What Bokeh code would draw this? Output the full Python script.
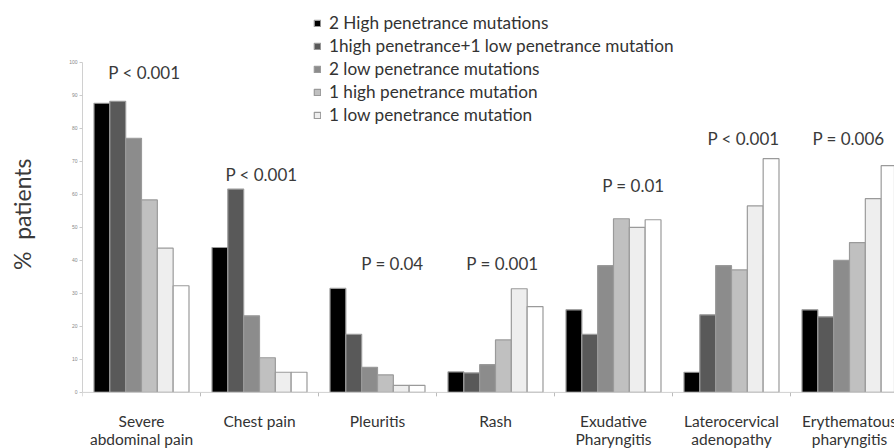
import math
from bokeh.plotting import figure
from bokeh.models import Range1d, FixedTicker, Legend, LegendItem, Span
from bokeh.core.properties import value
from bokeh.embed import file_html
from bokeh.resources import INLINE

# ---- data ----
categories = ["Severe\nabdominal pain", "Chest pain", "Pleuritis", "Rash",
              "Exudative\nPharyngitis", "Laterocervical\nadenopathy", "Erythematous\npharyngitis"]
series_names = ["2 High penetrance mutations",
                "1high penetrance+1 low penetrance mutation",
                "2 low penetrance mutations",
                "1 high penetrance mutation",
                "1 low penetrance mutation",
                None]
two_high = [87.6, 43.9, 31.5, 6.2, 25.0, 6.1, 25.0]
one_high_one_low = [88.2, 61.6, 17.6, 5.9, 17.6, 23.5, 22.9]
two_low = [77.0, 23.2, 7.6, 8.4, 38.4, 38.4, 40.0]
one_high = [58.3, 10.5, 5.3, 15.9, 52.6, 37.1, 45.4]
one_low = [43.7, 6.1, 2.1, 31.4, 50.0, 56.5, 58.7]
sixth = [32.3, 6.1, 2.1, 26.0, 52.3, 70.8, 68.7]
p_values = ["P < 0.001", "P < 0.001", "P = 0.04", "P = 0.001", "P = 0.01", "P < 0.001", "P = 0.006"]
y_ticks = list(range(0, 101, 10))
y_label = "% patients"

# ---- layout / style ----
colors = ["#000000", "#595959", "#8c8c8c", "#c0c0c0", "#eeeeee", "#ffffff"]
p_label_x = [0.525, 1.517, 2.627, 3.559, 4.669, 5.602, 6.492]
p_label_y = [97, 66, 39.1, 39.1, 62.7, 77, 77]
cat_line_y = [-8.7, -14.1]
tick_len = 1.2

p = figure(width=894, height=448, output_backend="svg", toolbar_location=None,
           x_range=Range1d(0, 812 / 118), y_range=Range1d(-17, 116),
           x_axis_location=None,
           min_border_left=82, min_border_right=0, min_border_top=9, min_border_bottom=0)
p.outline_line_color = None
p.xgrid.grid_line_color = None
p.ygrid.grid_line_color = None
p.background_fill_color = "white"
p.border_fill_color = "white"

ncat = len(categories)
all_series = [two_high, one_high_one_low, two_low, one_high, one_low, sixth]
n = len(all_series)
group_w = 0.805
bw = group_w / n
items = []
for k, (vals, col, name) in enumerate(zip(all_series, colors, series_names)):
    xs = [i + 0.5 + (k - (n - 1) / 2) * bw for i in range(ncat)]
    r = p.vbar(x=xs, top=vals, width=bw, bottom=0, fill_color=col,
               line_color="#9a9a9a", line_width=1.2)
    if name:
        items.append(LegendItem(label=name, renderers=[r]))

legend = Legend(items=items, location=(231, 323), glyph_width=8, glyph_height=8,
                label_standoff=8, spacing=2, label_height=20, padding=0, margin=0,
                border_line_color=None, background_fill_alpha=0,
                label_text_font="Lato", label_text_font_size="17.2px",
                label_text_color="#333333")
p.add_layout(legend)

p.text(x=p_label_x, y=p_label_y, text=p_values, text_align="center",
       text_baseline="middle", text_font=value("Lato"), text_font_size="17px",
       text_color="#3a3a3a")

# category axis: baseline, boundary ticks, two-line labels
p.add_layout(Span(location=0, dimension="width", line_color="#d0d0d0", line_width=1))
bounds = list(range(0, ncat + 1))
p.segment(x0=bounds, y0=[0] * len(bounds), x1=bounds, y1=[-tick_len] * len(bounds),
          line_color="#bbbbbb", line_width=1)
centers = [i + 0.5 for i in range(ncat)]
for j in range(2):
    lines = [(c.split("\n") + [""])[j] for c in categories]
    p.text(x=centers, y=[cat_line_y[j]] * ncat, text=lines, text_align="center",
           text_baseline="middle", text_font=value("Lato"), text_font_size="15.5px",
           text_color="#333333")

# y axis
ya = p.yaxis[0]
ya.ticker = FixedTicker(ticks=y_ticks)
ya.bounds = (0, 100)
ya.major_label_text_font_size = "5px"
ya.major_label_text_color = "#888888"
ya.major_tick_out = 3
ya.major_tick_in = 0
ya.major_tick_line_color = "#cccccc"
ya.minor_tick_line_color = None
ya.axis_line_color = "#d0d0d0"
ya.major_label_standoff = 2
ya.axis_label = "\u00a0" * 5 + y_label.replace(" ", "\u00a0\u00a0")
ya.axis_label_standoff = 30
ya.axis_label_text_font = "Lato"
ya.axis_label_text_font_size = "23px"
ya.axis_label_text_font_style = "normal"
ya.axis_label_text_color = "#3a3a3a"

open("out.html", "w").write(file_html(p, INLINE))
